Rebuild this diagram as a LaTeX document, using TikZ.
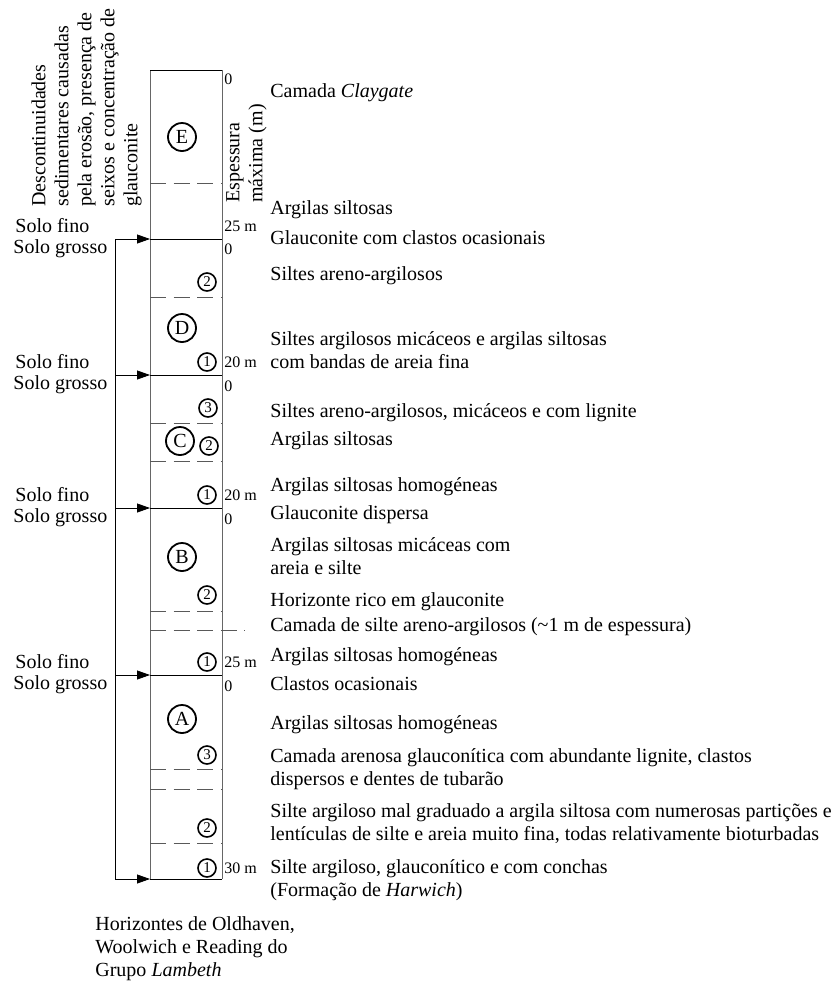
\documentclass[tikz,border=0pt]{standalone}
\usepackage{fontspec}
\setmainfont{Liberation Serif}
\usetikzlibrary{arrows.meta}

\begin{document}
\begin{tikzpicture}[x=0.5pt,y=-0.5pt,font=\fontsize{10}{11.5}\selectfont,
  unit/.style={circle,draw,line width=0.9pt,inner sep=0pt,minimum size=14pt,font=\fontsize{10}{10}\selectfont},
  subunit/.style={circle,draw,line width=0.8pt,inner sep=0pt,minimum size=9pt,font=\fontsize{7.5}{7.5}\selectfont},
  desc/.style={anchor=west,align=left,inner sep=0pt},
  depth/.style={anchor=west,inner sep=0pt,font=\fontsize{8}{8}\selectfont},
  dashline/.style={draw=black!65,dash pattern=on 8pt off 3.8pt},
  edge/.style={draw=black!60},
  tip/.style={-{Triangle[length=6.5pt,width=4.5pt]}}]
\useasboundingbox (0,0) rectangle (832,982);

% boundaries between units
\foreach \n/\y in {1/239,2/375,3/508,4/675,5/879} {
  \coordinate (s\n) at (115,\y);
  \coordinate (t\n) at (150,\y);
  \coordinate (r\n) at (222,\y);
}
\coordinate (top) at (150,70);
\coordinate (topr) at (222,70);

% column
\draw[edge] (top) -- (t5);
\draw[edge] (topr) -- (r5);
\draw (top) -- (topr);
\draw (s1) -- (s5);
\foreach \n in {1,...,5} {
  \draw[tip] (s\n) -- (t\n);
  \draw (t\n) -- (r\n);
}
\foreach \y in {183,297,423,461,611,769,789,843}
  \draw[dashline] (150,\y) -- (222,\y);
\draw[dashline] (150,630) -- (245,630);

% units
\node[unit] (uE) at (182,137) {E};
\node[unit] (uD) at (182,328) {D};
\node[unit] (uC) at (180,441) {C};
\node[unit] (uB) at (182,557) {B};
\node[unit] (uA) at (182,719) {A};
\foreach \nm/\x/\y/\k in {d2/207/282/2,d1/207/362/1,c3/208/408/3,c2/209/446/2,c1/207/495/1,
  b2/207/595/2,b1/207/662/1,a3/207/755/3,a2/207/828/2,a1/207/868/1}
  \node[subunit] (\nm) at (\x,\y) {\k};

% depths
\node[depth] (z0) at (224,79) {0};
\node[depth] (z1) at (224,226) {25 m};
\node[depth] (z2) at (224,249) {0};
\node[depth] (z3) at (224,362) {20 m};
\node[depth] (z4) at (224,386) {0};
\node[depth] (z5) at (224,495) {20 m};
\node[depth] (z6) at (224,519) {0};
\node[depth] (z7) at (224,662) {25 m};
\node[depth] (z8) at (224,686) {0};
\node[depth] (z9) at (224,868) {30 m};

% soil change
\foreach \n/\y in {1/239,2/375,3/508,4/675} {
  \node[desc] (fino\n) at (15,\y-13) {Solo fino};
  \node[desc] (grosso\n) at (13,\y+10) {Solo grosso};
}

% rotated titles
\node[rotate=90,anchor=north west,align=left,inner sep=0pt] (disc) at (31,207)
  {Descontinuidades\\sedimentares causadas\\pela erosão, presença de\\seixos e concentração de\\glauconite};
\node[rotate=90,anchor=north west,align=left,inner sep=0pt] (esp) at (226,203)
  {Espessura\\máxima (m)};

% descriptions
\node[desc] (tE1) at (270,93) {Camada \textit{Claygate}};
\node[desc] (tE2) at (270,210) {Argilas siltosas};
\node[desc] (tD1) at (270,238) {Glauconite com clastos ocasionais};
\node[desc] (tD2) at (270,276) {Siltes areno-argilosos};
\node[desc] (tD3) at (270,350) {Siltes argilosos micáceos e argilas siltosas\\com bandas de areia fina};
\node[desc] (tC1) at (270,413) {Siltes areno-argilosos, micáceos e com lignite};
\node[desc] (tC2) at (270,441) {Argilas siltosas};
\node[desc] (tC3) at (270,487) {Argilas siltosas homogéneas};
\node[desc] (tB1) at (270,515) {Glauconite dispersa};
\node[desc] (tB2) at (270,556) {Argilas siltosas micáceas com\\areia e silte};
\node[desc] (tB3) at (270,602) {Horizonte rico em glauconite};
\node[desc] (tB4) at (270,627) {Camada de silte areno-argilosos (\textasciitilde1 m de espessura)};
\node[desc] (tB5) at (270,657) {Argilas siltosas homogéneas};
\node[desc] (tA1) at (270,684) {Clastos ocasionais};
\node[desc] (tA2) at (270,725) {Argilas siltosas homogéneas};
\node[desc] (tA3) at (270,769) {Camada arenosa glauconítica com abundante lignite, clastos\\dispersos e dentes de tubarão};
\node[desc] (tA4) at (270,824) {Silte argiloso mal graduado a argila siltosa com numerosas partições e\\lentículas de silte e areia muito fina, todas relativamente bioturbadas};
\node[desc] (tA5) at (270,880) {Silte argiloso, glauconítico e com conchas\\(Formação de \textit{Harwich})};

\node[anchor=north west,align=left,inner sep=0pt] (base) at (95,916)
  {Horizontes de Oldhaven,\\Woolwich e Reading do\\Grupo \textit{Lambeth}};
\end{tikzpicture}
\end{document}
